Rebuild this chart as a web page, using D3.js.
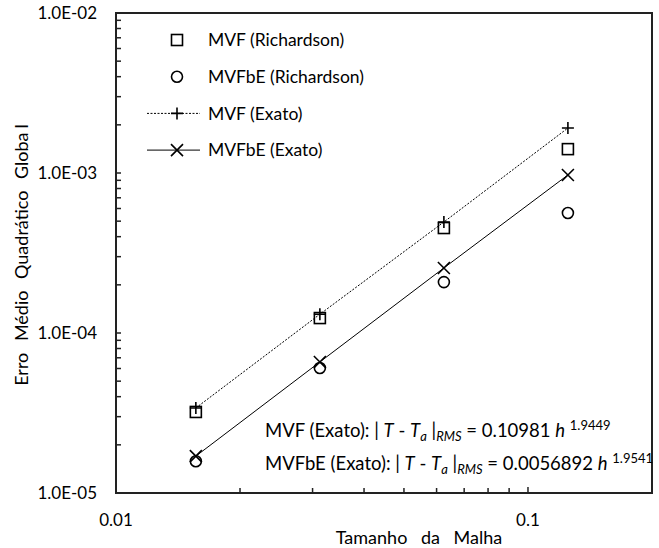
<!DOCTYPE html>
<html lang="pt">
<head>
<meta charset="UTF-8">
<title>Erro Médio Quadrático Global</title>
<style>
  body { margin: 0; background: #fff; }
  svg text { font-family: Lato, "Liberation Sans", sans-serif; fill: #000; }
</style>
</head>
<body>
<div id="chart"></div>
<script src="https://d3js.org/d3.v7.min.js"></script>
<script>
// tamanho da malha h
var malha = [0.015625, 0.03125, 0.0625, 0.125];

// valores
var mvfRich   = [3.21e-5, 1.24e-4, 4.53e-4, 1.41e-3];
var mvfbeRich = [1.58e-5, 6.04e-5, 2.08e-4, 5.62e-4];
var mvfExato  = [3.40e-5, 1.31e-4, 4.94e-4, 1.91e-3];
var mvfbeExato = [1.70e-5, 6.59e-5, 2.55e-4, 9.72e-4];

var yTicks = [1e-5, 1e-4, 1e-3, 1e-2];
var yTickLabels = ["1.0E-05", "1.0E-04", "1.0E-03", "1.0E-02"];
var xTicks = [0.01, 0.1];
var xTickLabels = ["0.01", "0.1"];

var legendNames = ["MVF (Richardson)", "MVFbE (Richardson)", "MVF (Exato)", "MVFbE (Exato)"];

var W = 659, H = 548;
var margin = { top: 13, right: 7, bottom: 55, left: 116 };
var width = W - margin.left - margin.right,
    height = H - margin.top - margin.bottom;

var svg = d3.select("#chart").append("svg")
    .attr("width", W).attr("height", H);

var g = svg.append("g")
    .attr("transform", "translate(" + margin.left + "," + margin.top + ")");

var x = d3.scaleLog().domain([0.01, 0.2]).range([0, width]);
var y = d3.scaleLog().domain([1e-5, 1e-2]).range([height, 0]);

// minor ticks (inside)
var xMinor = [];
for (var k = 1; k <= 9; k++) { xMinor.push(k * 0.01); }
xMinor.push(0.1);
var yMinor = [];
[1e-5, 1e-4, 1e-3].forEach(function (d) {
    for (var k = 1; k <= 9; k++) yMinor.push(k * d);
});
yMinor.push(1e-2);

g.selectAll(".xt").data(xMinor).enter().append("line")
    .attr("x1", function (d) { return x(d); }).attr("x2", function (d) { return x(d); })
    .attr("y1", height).attr("y2", function (d) { return height - (xTicks.indexOf(+d.toFixed(3)) >= 0 ? 6 : 5); })
    .attr("stroke", "#222").attr("stroke-width", 1.5);

g.selectAll(".yt").data(yMinor).enter().append("line")
    .attr("y1", function (d) { return y(d); }).attr("y2", function (d) { return y(d); })
    .attr("x1", 0).attr("x2", 5)
    .attr("stroke", "#222").attr("stroke-width", 1.5);

// plot border
g.append("rect")
    .attr("x", 0).attr("y", 0).attr("width", width).attr("height", height)
    .attr("fill", "none").attr("stroke", "#222").attr("stroke-width", 2);

// tick labels
g.selectAll(".yl").data(yTicks).enter().append("text")
    .attr("x", -19).attr("y", function (d) { return y(d); })
    .attr("dy", "0.35em").attr("text-anchor", "end")
    .style("font-size", "17px")
    .text(function (d, i) { return yTickLabels[i]; });

g.selectAll(".xl").data(xTicks).enter().append("text")
    .attr("x", function (d) { return x(d); }).attr("y", height + 27)
    .attr("dy", "0.35em").attr("text-anchor", "middle")
    .style("font-size", "17px")
    .text(function (d, i) { return xTickLabels[i]; });

// axis titles
svg.append("text")
    .attr("x", 419).attr("y", 538).attr("dy", "0.35em")
    .attr("text-anchor", "middle").style("font-size", "18px")
    .style("word-spacing", "9px")
    .text("Tamanho da Malha");

var yTitle = svg.append("text")
    .attr("transform", "translate(22,255) rotate(-90)")
    .attr("dy", "0.35em")
    .attr("text-anchor", "middle").style("font-size", "18px")
    .style("word-spacing", "7px");
yTitle.append("tspan").text("Erro Médio Quadrático Globa");
yTitle.append("tspan").attr("dx", 4).text("l");

// lines
var line = d3.line()
    .x(function (d) { return x(d[0]); })
    .y(function (d) { return y(d[1]); });

g.append("path")
    .attr("d", line(d3.zip(malha, mvfExato)))
    .attr("fill", "none").attr("stroke", "#000").attr("stroke-width", 1)
    .attr("stroke-dasharray", "2,1.5");

g.append("path")
    .attr("d", line(d3.zip(malha, mvfbeExato)))
    .attr("fill", "none").attr("stroke", "#000").attr("stroke-width", 1);

// marker drawing
function marker(sel, type) {
    var s = 6;
    if (type === "square") {
        sel.append("rect").attr("x", -s + 0.5).attr("y", -s + 0.5)
            .attr("width", 2 * s - 1).attr("height", 2 * s - 1)
            .attr("fill", "none").attr("stroke", "#000").attr("stroke-width", 1.6);
    } else if (type === "circle") {
        sel.append("circle").attr("r", s - 0.5)
            .attr("fill", "none").attr("stroke", "#000").attr("stroke-width", 1.6);
    } else if (type === "plus") {
        sel.append("path").attr("d", "M" + (-s) + ",0H" + s + "M0," + (-s) + "V" + s)
            .attr("stroke", "#000").attr("stroke-width", 1.6);
    } else {
        sel.append("path").attr("d", "M" + (-s) + "," + (-s) + "L" + s + "," + s + "M" + (-s) + "," + s + "L" + s + "," + (-s))
            .attr("stroke", "#000").attr("stroke-width", 1.6);
    }
}

var series = [
    { vals: mvfRich, m: "square" },
    { vals: mvfbeRich, m: "circle" },
    { vals: mvfExato, m: "plus" },
    { vals: mvfbeExato, m: "cross" }
];

series.forEach(function (s) {
    g.selectAll(null).data(d3.zip(malha, s.vals)).enter().append("g")
        .attr("transform", function (d) { return "translate(" + x(d[0]) + "," + y(d[1]) + ")"; })
        .each(function () { marker(d3.select(this), s.m); });
});

// legend
var legend = svg.append("g");
legendNames.forEach(function (name, i) {
    var ly = 40 + i * 36.7;
    var row = legend.append("g").attr("transform", "translate(177," + ly + ")");
    if (i === 2) {
        row.append("line").attr("x1", -30).attr("x2", 23).attr("stroke", "#000")
            .attr("stroke-width", 1).attr("stroke-dasharray", "2,1.5");
    } else if (i === 3) {
        row.append("line").attr("x1", -30).attr("x2", 23).attr("stroke", "#000")
            .attr("stroke-width", 1);
    }
    marker(row, series[i].m);
    row.append("text").attr("x", 31).attr("dy", "0.35em")
        .style("font-size", "17.5px").text(name);
});

// equations
function equation(yPos, label, coef, expo) {
    var t = svg.append("text").attr("x", 265).attr("y", yPos).attr("dy", "0.35em")
        .style("font-size", "18.5px").attr("xml:space", "preserve");
    t.append("tspan").text(label + ": | ");
    t.append("tspan").style("font-style", "italic").text("T");
    t.append("tspan").text(" - ");
    t.append("tspan").style("font-style", "italic").text("T");
    t.append("tspan").style("font-style", "italic").style("font-size", "13px")
        .attr("dy", 4).text("a");
    t.append("tspan").attr("dy", -4).text(" |");
    t.append("tspan").style("font-style", "italic").style("font-size", "13px")
        .attr("dy", 4).text("RMS");
    t.append("tspan").attr("dy", -4).text(" = " + coef + " ");
    t.append("tspan").style("font-style", "italic").text("h");
    t.append("tspan").text(" ");
    t.append("tspan").style("font-size", "13px").attr("dy", -7).text(expo);
}
equation(431, "MVF (Exato)", "0.10981", "1.9449");
equation(464, "MVFbE (Exato)", "0.0056892", "1.9541");
</script>
</body>
</html>
